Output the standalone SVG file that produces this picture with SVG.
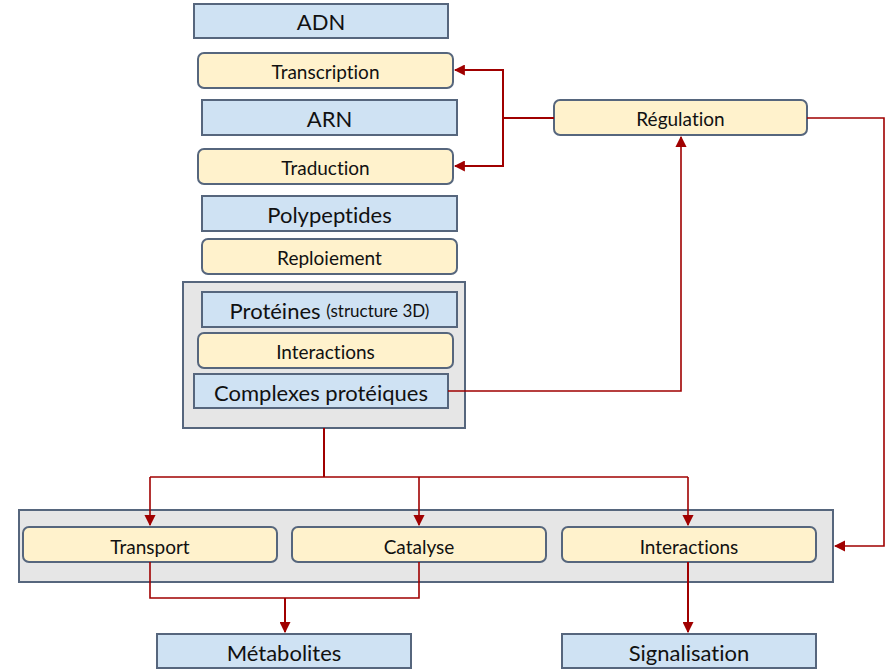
<svg xmlns="http://www.w3.org/2000/svg" width="885" height="669" viewBox="0 0 885 669">
<style>
.blue{fill:#cfe2f3;stroke:#56667d;stroke-width:2}
.yel{fill:#fff2cc;stroke:#56667d;stroke-width:2}
.grp{fill:#e6e6e6;stroke:#56667d;stroke-width:2}
.t{font-family:Lato,"Open Sans","Liberation Sans",sans-serif;fill:#111;text-anchor:middle;dominant-baseline:central;font-variant-ligatures:none}
.big{font-size:22px}
.sm{font-size:19px}
.c{fill:none;stroke:#a00000}
.thick{stroke-width:2}
.thin{stroke-width:1.6}
</style>
<defs>
<marker id="ah" viewBox="0 0 10 10" refX="9" refY="5" markerWidth="5.5" markerHeight="5.5" orient="auto-start-reverse" markerUnits="strokeWidth">
<path d="M0,0 L10,5 L0,10 z" fill="#a00000"/>
</marker>
<marker id="ah2" viewBox="0 0 10 10" refX="9" refY="5" markerWidth="7" markerHeight="7" orient="auto" markerUnits="strokeWidth">
<path d="M0,0 L10,5 L0,10 z" fill="#a00000"/>
</marker>
</defs>
<rect x="0" y="0" width="885" height="669" fill="#fff"/>
<g id="grp-proteines"><rect class="grp" x="183" y="282" width="282" height="146"/></g>
<g id="grp-fonctions"><rect class="grp" x="19" y="510" width="814" height="72"/></g>
<g id="adn"><rect class="blue" x="194" y="4" width="254" height="34"/><text class="t big" x="321" y="21">ADN</text></g>
<g id="transcription"><rect class="yel" x="198" y="53" width="255" height="35" rx="6"/><text class="t sm" x="325.5" y="71">Transcription</text></g>
<g id="arn"><rect class="blue" x="202" y="100" width="255" height="35"/><text class="t big" x="329.5" y="118">ARN</text></g>
<g id="traduction"><rect class="yel" x="198" y="149" width="255" height="35" rx="6"/><text class="t sm" x="325.5" y="167">Traduction</text></g>
<g id="polypeptides"><rect class="blue" x="202" y="196" width="255" height="35"/><text class="t big" x="329.5" y="214">Polypeptides</text></g>
<g id="reploiement"><rect class="yel" x="202" y="239" width="255" height="35" rx="6"/><text class="t sm" x="329.5" y="257">Reploiement</text></g>
<g id="proteines"><rect class="blue" x="202" y="292" width="255" height="35"/><text class="t big" x="329.5" y="310">Protéines <tspan font-size="17px">(structure 3D)</tspan></text></g>
<g id="interactions1"><rect class="yel" x="198" y="333" width="255" height="35" rx="6"/><text class="t sm" x="325.5" y="351">Interactions</text></g>
<g id="complexes"><rect class="blue" x="194" y="374" width="254" height="34"/><text class="t big" x="321" y="392">Complexes protéiques</text></g>
<g id="regulation"><rect class="yel" x="554" y="100" width="253" height="35" rx="6"/><text class="t sm" x="680.5" y="118">Régulation</text></g>
<g id="transport"><rect class="yel" x="23" y="527" width="254" height="35" rx="6"/><text class="t sm" x="150" y="546">Transport</text></g>
<g id="catalyse"><rect class="yel" x="292" y="527" width="254" height="35" rx="6"/><text class="t sm" x="419" y="546">Catalyse</text></g>
<g id="interactions2"><rect class="yel" x="562" y="527" width="254" height="35" rx="6"/><text class="t sm" x="689" y="546">Interactions</text></g>
<g id="metabolites"><rect class="blue" x="157" y="634" width="254" height="34"/><text class="t big" x="284" y="652">Métabolites</text></g>
<g id="signalisation"><rect class="blue" x="562" y="634" width="254" height="34"/><text class="t big" x="689" y="652">Signalisation</text></g>
<g id="connectors">
<path class="c thick" d="M554,118 H503"/>
<path class="c thick" d="M503,166 V70 H455" marker-end="url(#ah)"/>
<path class="c thick" d="M503,118 V166 H455" marker-end="url(#ah)"/>
<path class="c thin" d="M448,391 H681 V137" marker-end="url(#ah2)"/>
<path class="c thin" d="M807,118 H884 V546 H835" marker-end="url(#ah2)"/>
<path class="c thick" d="M324,428 V477"/>
<path class="c thin" d="M150,477 H688"/>
<path class="c thin" d="M150,477 V525" marker-end="url(#ah2)"/>
<path class="c thin" d="M419,477 V525" marker-end="url(#ah2)"/>
<path class="c thin" d="M688,477 V525" marker-end="url(#ah2)"/>
<path class="c thin" d="M150,562 V598 H419 V562"/>
<path class="c thick" d="M285,598 V632" marker-end="url(#ah)"/>
<path class="c thick" d="M688,562 V632" marker-end="url(#ah)"/>
</g>
</svg>
